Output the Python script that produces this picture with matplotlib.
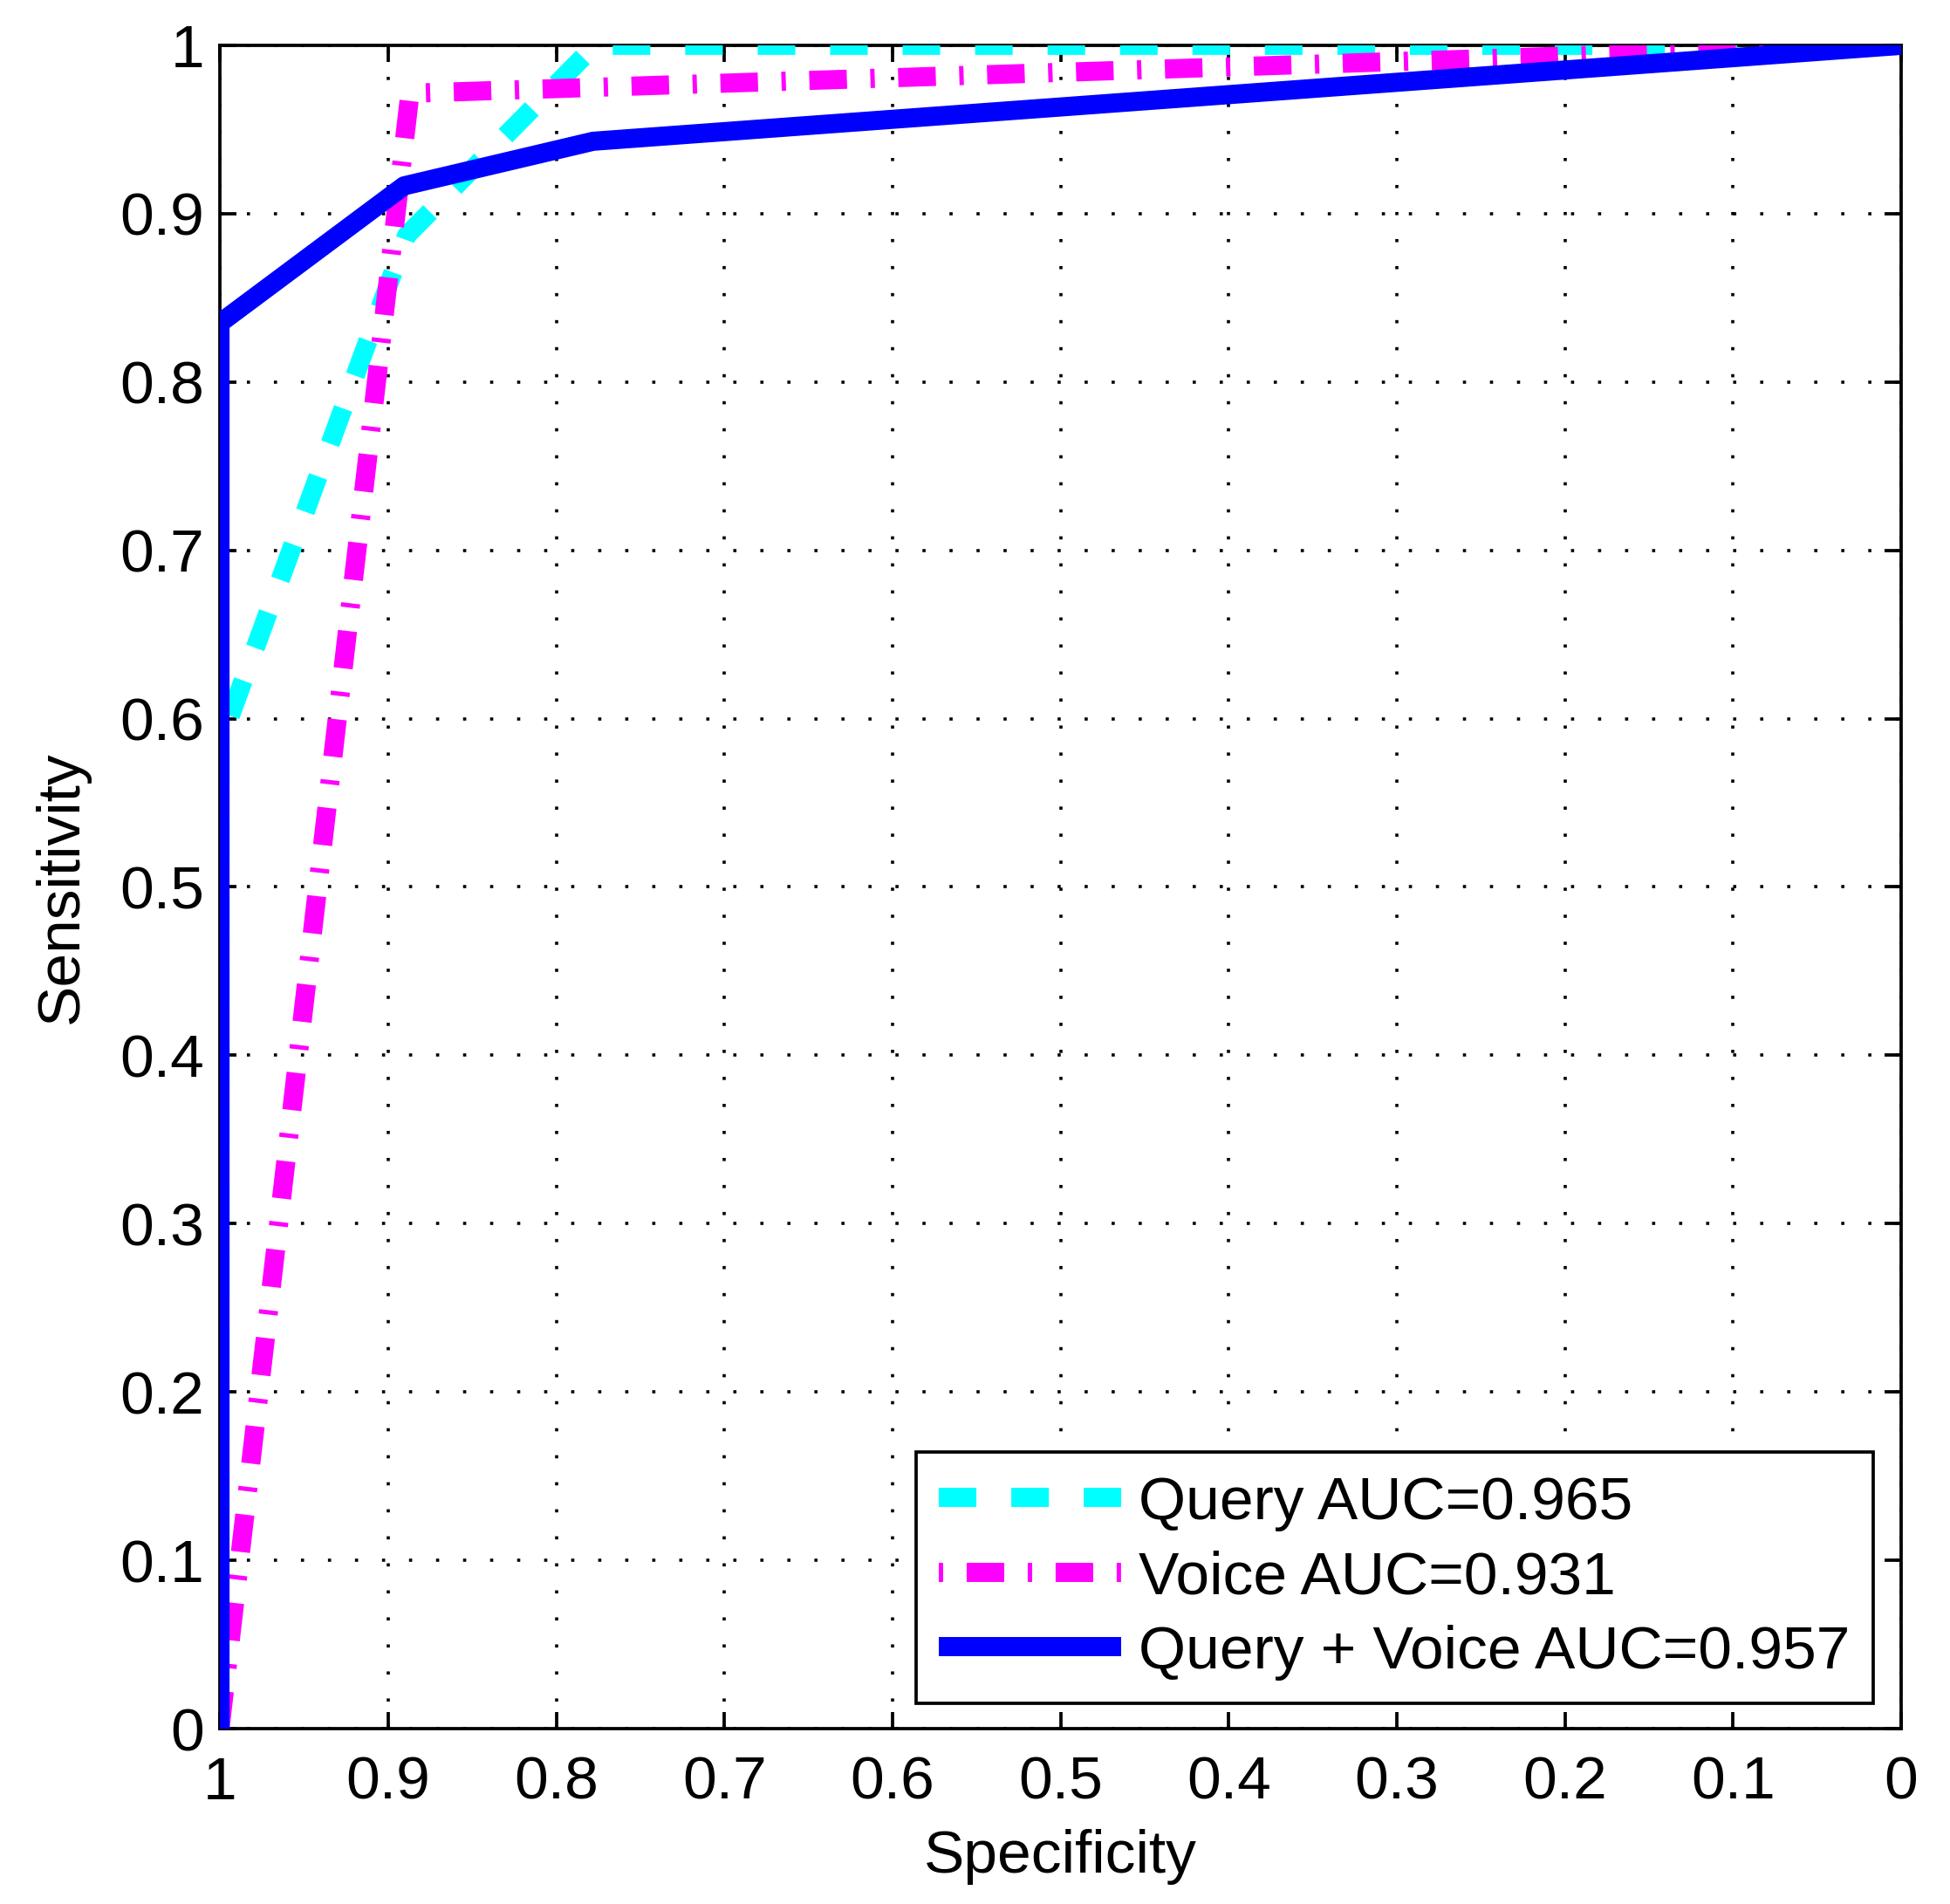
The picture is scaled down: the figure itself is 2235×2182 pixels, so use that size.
import matplotlib
matplotlib.use("Agg")
import matplotlib.pyplot as plt

plt.rcParams['font.family'] = ['Liberation Sans', 'DejaVu Sans']
plt.rcParams['lines.scale_dashes'] = False

# ROC punkty (specyficznosc, czulosc)
spec_query = [1.0, 1.0, 0.889, 0.777, 0.0]
sens_query = [0.0, 0.585, 0.887, 1.0, 1.0]

spec_voice = [1.0, 0.887, 0.0]
sens_voice = [0.0, 0.9715, 1.0]

spec_both = [1.0, 1.0, 0.8905, 0.778, 0.0]
sens_both = [0.0, 0.835, 0.9165, 0.943, 1.0]

labels = ['Query AUC=0.965', 'Voice AUC=0.931', 'Query + Voice AUC=0.957']

ticks = [0.0, 0.1, 0.2, 0.3, 0.4, 0.5, 0.6, 0.7, 0.8, 0.9, 1.0]
tick_labels = ['0', '0.1', '0.2', '0.3', '0.4', '0.5', '0.6', '0.7', '0.8', '0.9', '1']

fs = 50
lw = 15.8
dash_query = (0, (31, 28.8))
dash_voice = (0, (31, 19.4, 3.6, 19.4))

fig = plt.figure(figsize=(22.35, 21.82), dpi=100)
ax = fig.add_axes([0.1128, 0.0921, 0.8622, 0.8841])

ax.plot(spec_query, sens_query, color='#00FFFF', lw=lw, linestyle=dash_query,
        label=labels[0], zorder=3)
ax.plot(spec_voice, sens_voice, color='#FF00FF', lw=lw, linestyle=dash_voice,
        label=labels[1], zorder=3)
ax.plot(spec_both, sens_both, color='#0000FF', lw=lw, solid_capstyle='butt',
        label=labels[2], zorder=3)

ax.set_xlim(1, 0)
ax.set_ylim(0, 1)
ax.set_xticks(ticks)
ax.set_xticklabels(tick_labels)
ax.set_yticks(ticks)
ax.set_yticklabels(tick_labels)

ax.grid(True, color='k', linestyle=(0, (2.6, 19.7)), linewidth=2.6)
ax.tick_params(direction='in', length=13.7, width=2.7, top=True, right=True,
               labelsize=fs)
ax.tick_params(axis='x', pad=22)
ax.tick_params(axis='y', pad=13)
for sp in ax.spines.values():
    sp.set_linewidth(2.7)

ax.set_xlabel('Specificity', fontsize=fs, labelpad=15)
ax.set_ylabel('Sensitivity', fontsize=fs, labelpad=25)

leg = ax.legend(loc='lower right', bbox_to_anchor=(0.9834, 0.015), fontsize=fs,
                frameon=True, fancybox=False, edgecolor='k', framealpha=1,
                borderpad=0.38, labelspacing=0.31, handlelength=3.0,
                handletextpad=0.3, borderaxespad=0)
leg.get_frame().set_linewidth(2.7)
# w legendzie kreska-kropka zaczyna sie od kropki
leg.get_lines()[1].set_linestyle((50.4, (31, 19.4, 3.6, 19.4)))

fig.savefig('out.png', dpi=100)
